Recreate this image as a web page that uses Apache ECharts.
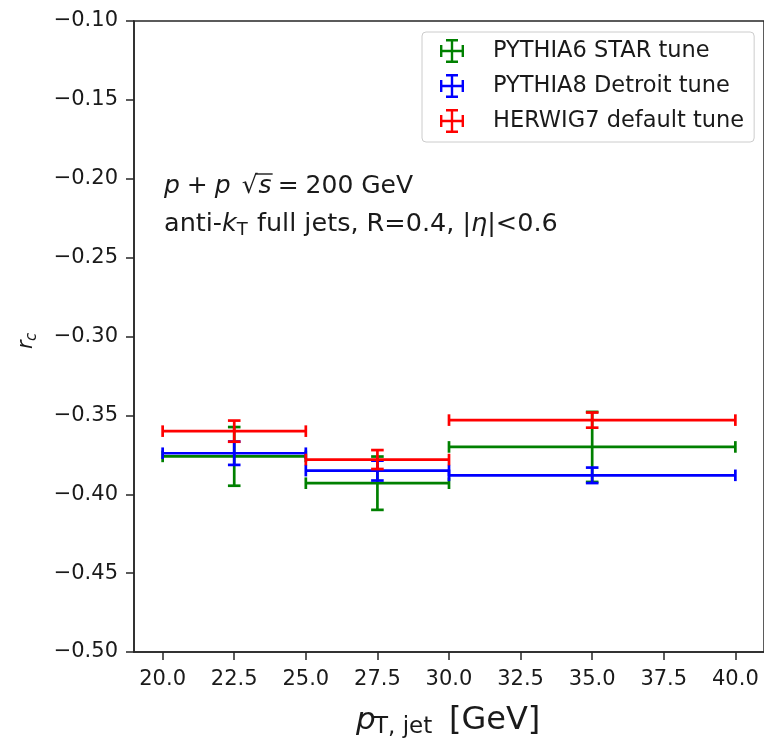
<!DOCTYPE html>
<html><head><meta charset="utf-8">
<script src="https://cdn.jsdelivr.net/npm/echarts@6/dist/echarts.min.js"></script>
<style>html,body{margin:0;padding:0;background:#fff}#c{width:764px;height:738px}</style>
</head><body><div id="c"></div>
<script>
// ---- data ----
const binCenters = [22.5, 27.5, 35.0];
const binHalfWidths = [2.5, 2.5, 5.0];
const pythia6 = [-0.376, -0.393, -0.370];
const pythia6Err = [0.0186, 0.0169, 0.0222];
const pythia8 = [-0.374, -0.385, -0.388];
const pythia8Err = [0.0074, 0.0063, 0.0049];
const herwig7 = [-0.360, -0.378, -0.353];
const herwig7Err = [0.0067, 0.0060, 0.0048];
const xTicks = [20, 22.5, 25, 27.5, 30, 32.5, 35, 37.5, 40];
const seriesNames = ['PYTHIA6 STAR tune', 'PYTHIA8 Detroit tune', 'HERWIG7 default tune'];
const seriesColors = ['#008000', '#0000ff', '#ff0000'];

const seriesVals = [pythia6, pythia8, herwig7];
const seriesErrs = [pythia6Err, pythia8Err, herwig7Err];

const chart = echarts.init(document.getElementById('c'), null, {renderer: 'canvas'});

function renderErr(params, api) {
  const x = api.value(0), y = api.value(1), xe = api.value(2), ye = api.value(3);
  const pL = api.coord([x - xe, y]), pR = api.coord([x + xe, y]);
  const pT = api.coord([x, y + ye]), pB = api.coord([x, y - ye]);
  const c = api.visual('color');
  const st = {stroke: c, lineWidth: 2.7, lineCap: 'butt'};
  const cw = 6.3, ch = 5.8;
  const ln = (x1, y1, x2, y2) => ({type: 'line', shape: {x1, y1, x2, y2}, style: st});
  return {type: 'group', children: [
    ln(pL[0], pL[1], pR[0], pR[1]),
    ln(pT[0], pT[1], pB[0], pB[1]),
    ln(pL[0], pL[1] - ch, pL[0], pL[1] + ch),
    ln(pR[0], pR[1] - ch, pR[0], pR[1] + ch),
    ln(pT[0] - cw, pT[1], pT[0] + cw, pT[1]),
    ln(pB[0] - cw, pB[1], pB[0] + cw, pB[1])
  ]};
}

const crossIcon = 'path://M0,9H20V11H0Z M9,0H11V20H9Z M5,0H15V2H5Z M5,18H15V20H5Z M0,5H2V15H0Z M18,5H20V15H18Z';

const series = seriesNames.map((name, s) => ({
  name, type: 'custom', renderItem: renderErr,
  color: seriesColors[s], itemStyle: {color: seriesColors[s]},
  encode: {x: 0, y: 1},
  clip: false,
  data: binCenters.map((x, i) => [x, seriesVals[s][i], binHalfWidths[i], seriesErrs[s][i]])
}));

const TXT = '#1a1a1a';
const FF = '"DejaVu Sans"';
const mctx = document.createElement('canvas').getContext('2d');
function measure(font, t) { mctx.font = font; return mctx.measureText(t).width; }
// lay out a run of text pieces one after another
function chain(x, y, parts) {
  const out = [];
  parts.forEach(p => {
    x += (p.gap || 0);
    out.push({type: 'text', x, y: y + (p.dy || 0), style: {text: p.t, font: p.font, fill: TXT, verticalAlign: 'middle'}});
    x += measure(p.font, p.t);
  });
  return out;
}

const g = [];
// y axis name r_c
g.push({type: 'group', x: 27, y: 341, rotation: Math.PI / 2, children: [
  {type: 'text', x: -8, y: 0, style: {text: 'r', font: 'italic 21px ' + FF, fill: TXT, align: 'left', verticalAlign: 'middle'}},
  {type: 'text', x: 0, y: 5, style: {text: 'c', font: 'italic 15px ' + FF, fill: TXT, align: 'left', verticalAlign: 'middle'}}
]});
// x axis name
g.push({type: 'text', x: 356, y: 721, style: {text: 'p', font: 'italic 31px ' + FF, fill: TXT, verticalAlign: 'middle'}});
g.push({type: 'text', x: 374, y: 727, style: {text: 'T, jet', font: '23px ' + FF, fill: TXT, verticalAlign: 'middle'}});
g.push({type: 'text', x: 449, y: 721, style: {text: '[GeV]', font: '32px ' + FF, fill: TXT, verticalAlign: 'middle'}});

// annotation line 1
const L1 = '25px ' + FF, L1I = 'italic 25px ' + FF;
const AF = '25.5px ' + FF, AFI = 'italic 25.5px ' + FF;
const l1x = 164, l1y = 186;
const l1gaps = [0, 7, 7, 11, 1, 6, 7];
g.push(...chain(l1x, l1y, [
  {t: 'p', font: L1I},
  {t: '+', font: L1, gap: l1gaps[1]},
  {t: 'p', font: L1I, gap: l1gaps[2]},
  {t: '\u221a', font: L1, gap: l1gaps[3]},
  {t: 's', font: L1I, gap: l1gaps[4]},
  {t: '=', font: L1, gap: l1gaps[5]},
  {t: '200 GeV', font: L1, gap: l1gaps[6]}
]));
// overline of the square root (placed after measuring the run)
(function () {
  const x = l1x + measure(L1I, 'p') + l1gaps[1] + measure(L1, '+') + l1gaps[2] + measure(L1I, 'p') + l1gaps[3];
  const xr = x + measure(L1, '\u221a') - 2;
  const xe = xr + 2 + l1gaps[4] + measure(L1I, 's') + 1;
  g.push({type: 'line', shape: {x1: xr, y1: 174, x2: xe, y2: 174}, style: {stroke: TXT, lineWidth: 1.4}});
})();
// annotation line 2
g.push(...chain(164, 224, [
  {t: 'anti-', font: AF},
  {t: 'k', font: AFI},
  {t: 'T', font: '18px ' + FF, dy: 6},
  {t: ' full jets, R=0.4, |', font: AF, gap: 1},
  {t: '\u03b7', font: AFI},
  {t: '|<0.6', font: AF}
]));

chart.setOption({
  animation: false,
  backgroundColor: '#ffffff',
  grid: {left: 134, top: 21, width: 634, height: 631, show: true, borderColor: '#262626', borderWidth: 1.5, backgroundColor: 'transparent'},
  xAxis: {
    type: 'value', min: 19, max: 41,
    axisLine: {show: true, lineStyle: {color: '#262626', width: 1.5}},
    axisTick: {show: true, length: 8, customValues: xTicks, lineStyle: {color: '#262626', width: 1.5}},
    axisLabel: {customValues: xTicks, margin: 17, fontFamily: 'DejaVu Sans', fontSize: 21, color: TXT,
      formatter: v => v.toFixed(1)},
    splitLine: {show: false}
  },
  yAxis: {
    type: 'value', min: -0.5, max: -0.1, interval: 0.05,
    axisLine: {show: true, lineStyle: {color: '#262626', width: 1.5}},
    axisTick: {show: true, length: 8, lineStyle: {color: '#262626', width: 1.5}},
    axisLabel: {margin: 16, fontFamily: 'DejaVu Sans', fontSize: 21, color: TXT,
      formatter: v => v.toFixed(2).replace('-', '\u2212')},
    splitLine: {show: false}
  },
  legend: {
    orient: 'vertical', left: 422, top: 32,
    itemWidth: 24, itemHeight: 24, itemGap: 11,
    padding: [7, 10, 9, 18],
    borderColor: '#cccccc', borderWidth: 1, borderRadius: 4,
    backgroundColor: 'rgba(255,255,255,0.8)',
    textStyle: {fontFamily: 'DejaVu Sans', fontSize: 22.5, color: TXT, padding: [0, 0, 0, 24]},
    data: seriesNames.map(n => ({name: n, icon: crossIcon}))
  },
  graphic: g,
  series
});
</script>
</body></html>
